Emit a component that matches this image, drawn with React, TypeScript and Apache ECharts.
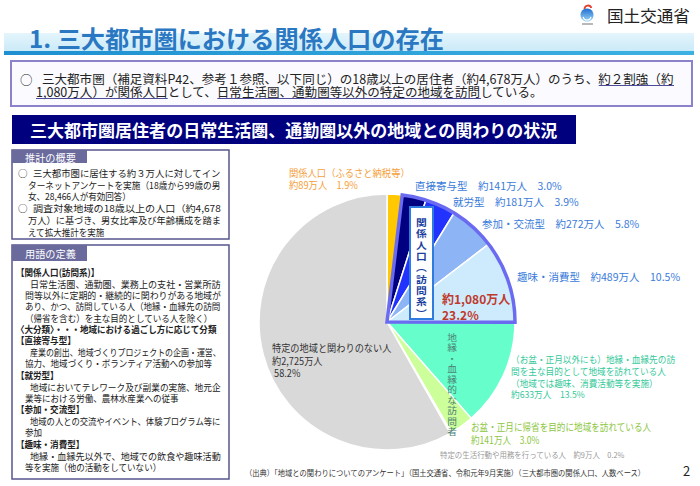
import React, { useEffect, useRef } from 'react';
import * as echarts from 'echarts';

const FONT = '"Noto Sans CJK JP", "Noto Sans CJK SC", sans-serif';

const titleText = '1. 三大都市圏における関係人口の存在';
const ministryName = '国土交通省';
const infoLines = [
  '三大都市圏（補足資料P42、参考１参照、以下同じ）の18歳以上の居住者（約4,678万人）のうち、約２割強（約',
  '1,080万人）が関係人口として、日常生活圏、通勤圏等以外の特定の地域を訪問している。',
];
const infoUnderlines: [number, string, string][] = [
  [0, '三大都市圏（補足資料P42、参考１参照、以下同じ）の18歳以上の居住者（約4,678万人）のうち、', '約２割強（約'],
  [1, '', '1,080万人）が関係人口'],
  [1, '1,080万人）が関係人口として、', '日常生活圏、通勤圏等以外の特定の地域を訪問'],
];
const sectionTitle = '三大都市圏居住者の日常生活圏、通勤圏以外の地域との関わりの状況';
const box1Title = '推計の概要';
const box1Lines = [
  '○三大都市圏に居住する約３万人に対してイン',
  'ターネットアンケートを実施（18歳から99歳の男',
  '女、28,466人が有効回答）',
  '○調査対象地域の18歳以上の人口（約4,678',
  '万人）に基づき、男女比率及び年齢構成を踏ま',
  'えて拡大推計を実施',
];
const box2Title = '用語の定義';
const box2Lines = [
  '【関係人口(訪問系)】',
  '　日常生活圏、通勤圏、業務上の支社・営業所訪',
  '問等以外に定期的・継続的に関わりがある地域が',
  'あり、かつ、訪問している人（地縁・血縁先の訪問',
  '（帰省を含む）を主な目的としている人を除く）',
  '〈大分類〉・・・地域における過ごし方に応じて分類',
  '【直接寄与型】',
  '　産業の創出、地域づくりプロジェクトの企画・運営、',
  '協力、地域づくり・ボランティア活動への参加等',
  '【就労型】',
  '　地域においてテレワーク及び副業の実施、地元企',
  '業等における労働、農林水産業への従事',
  '【参加・交流型】',
  '　地域の人との交流やイベント、体験プログラム等に',
  '参加',
  '【趣味・消費型】',
  '　地縁・血縁先以外で、地域での飲食や趣味活動',
  '等を実施（他の活動をしていない）',
];

const sliceNames = [
  '関係人口（ふるさと納税等）',
  '直接寄与型',
  '就労型',
  '参加・交流型',
  '趣味・消費型',
  '地縁・血縁先の訪問',
  '帰省',
  '特定の生活行動や用務',
  '特定の地域と関わりのない人',
];
const sliceValues = [89, 141, 181, 272, 489, 633, 141, 9, 2725];
const slicePercents = [1.9, 3.0, 3.9, 5.8, 10.5, 13.5, 3.0, 0.2, 58.2];
const sliceColors = ['#FFC800', '#000080', '#2233FF', '#8DB4F4', '#CDEBFD', '#66FFCC', '#CCFF99', '#FFFFFF', '#D9D9D9'];
const sliceLabelHeads = [
  ['関係人口（ふるさと納税等）'],
  ['直接寄与型'],
  ['就労型'],
  ['参加・交流型'],
  ['趣味・消費型'],
  ['（お盆・正月以外にも）地縁・血縁先の訪', '問を主な目的として地域を訪れている人', '（地域では趣味、消費活動等を実施）'],
  ['お盆・正月に帰省を目的に地域を訪れている人'],
  ['特定の生活行動や用務を行っている人'],
  ['特定の地域と関わりのない人'],
];
const groupIndices = [1, 2, 3, 4];
const groupTotalValue = 1080;
const groupTotalPercent = 23.2;
const groupLabel = '関係人口︵訪問系︶';
const kinLabel = '地縁・血縁的な訪問者';
const sourceText = '（出典）「地域との関わりについてのアンケート」（国土交通省、令和元年9月実施）（三大都市圏の関係人口、人数ベース）';
const pageNo = '2';

let ctx: CanvasRenderingContext2D | null = null;
function measure(text: string, fs: number, fw: string = 'normal') {
  if (!ctx) ctx = document.createElement('canvas').getContext('2d');
  ctx!.font = `${fw} ${fs}px ${FONT}`;
  return ctx!.measureText(text).width;
}

type TOpt = { fs: number; fw?: string; color?: string; sx?: number; right?: number; align?: string; lh?: number; z?: number };
function mk(x: number, y: number, text: string, o: TOpt) {
  const fw = o.fw || 'normal';
  let sx = o.sx ?? 1;
  if (o.right != null) sx = (o.right - x) / measure(text, o.fs, fw);
  return {
    type: 'text',
    x,
    y,
    scaleX: sx,
    z: o.z ?? 100,
    silent: true,
    style: {
      text,
      fill: o.color || '#222',
      fontSize: o.fs,
      fontWeight: fw,
      fontFamily: FONT,
      align: o.align || 'left',
      textAlign: o.align || 'left',
      verticalAlign: 'middle',
      textVerticalAlign: 'middle',
      lineHeight: o.lh,
    },
  };
}

function fmt(v: number) {
  return v.toLocaleString('en-US');
}

export default function App() {
  const ref = useRef<HTMLDivElement>(null);
  useEffect(() => {
    if (!ref.current) return;
    const chart = echarts.init(ref.current, undefined, { renderer: 'svg' });
    const els: any[] = [];

    // title band
    els.push({
      type: 'rect', z: 1, silent: true,
      shape: { x: 4, y: 33, width: 690, height: 18 },
      style: { fill: new echarts.graphic.LinearGradient(0, 0, 0, 1, [{ offset: 0, color: '#E4F5FC' }, { offset: 1, color: '#CBEAF8' }]) },
    });
    els.push({
      type: 'rect', z: 1, silent: true,
      shape: { x: 4, y: 51, width: 690, height: 4 },
      style: { fill: new echarts.graphic.LinearGradient(0, 0, 1, 0, [{ offset: 0, color: '#1E8FD0' }, { offset: 1, color: '#3DB2E2' }]) },
    });
    els.push(mk(29, 38, titleText, { fs: 24, fw: 'bold', color: '#2A78C2', right: 444 }));

    // logo
    els.push({ type: 'circle', z: 100, silent: true, shape: { cx: 587, cy: 15, r: 6.5 },
      style: { fill: new echarts.graphic.LinearGradient(0, 0, 0, 1, [{ offset: 0, color: '#1F6FD0' }, { offset: 1, color: '#9ED6F6' }]) } });
    els.push({ type: 'arc', z: 101, silent: true, shape: { cx: 587, cy: 16, r: 4, startAngle: 0.2, endAngle: Math.PI - 0.2 },
      style: { stroke: '#FFFFFF', lineWidth: 1.2, fill: 'none' } });
    els.push({ type: 'arc', z: 101, silent: true, shape: { cx: 588, cy: 9, r: 3.5, startAngle: Math.PI * 1.0, endAngle: Math.PI * 1.9 },
      style: { stroke: '#E2412F', lineWidth: 1.8, fill: 'none' } });
    els.push({ type: 'line', z: 101, silent: true, shape: { x1: 582, y1: 24, x2: 593, y2: 24 }, style: { stroke: '#8A8A8A', lineWidth: 1.2 } });
    els.push(mk(607, 15, ministryName, { fs: 16, color: '#222', right: 690 }));

    // info box
    els.push({ type: 'rect', z: 2, silent: true, shape: { x: 11, y: 61, width: 681, height: 45 },
      style: { fill: '#FBFBFF', stroke: '#8B82CC', lineWidth: 2 } });
    const infoFs = 12.5;
    const infoX = [42, 36];
    const infoY = [79, 92];
    const infoSx = (674 - infoX[0]) / measure(infoLines[0], infoFs);
    els.push(mk(20, infoY[0], '○', { fs: infoFs }));
    infoLines.forEach((t, i) => els.push(mk(infoX[i], infoY[i], t, { fs: infoFs, sx: infoSx })));
    infoUnderlines.forEach(([li, pre, seg]) => {
      const x1 = infoX[li] + measure(pre, infoFs) * infoSx;
      const x2 = x1 + measure(seg, infoFs) * infoSx;
      const y = infoY[li] + 6.5;
      els.push({ type: 'line', z: 100, silent: true, shape: { x1, y1: y, x2, y2: y }, style: { stroke: '#4B4B9B', lineWidth: 1 } });
    });

    // section bar
    els.push({ type: 'rect', z: 2, silent: true, shape: { x: 12, y: 115, width: 564, height: 29 }, style: { fill: '#00007F' } });
    els.push(mk(30, 130, sectionTitle, { fs: 17, fw: 'bold', color: '#FFFFFF', right: 558 }));

    // boxes
    const drawBox = (top: number, h: number, tabH: number, title: string, lines: string[], y0: number, step: number, contX: number) => {
      els.push({ type: 'rect', z: 2, silent: true, shape: { x: 12, y: top, width: 217, height: h },
        style: { fill: '#FFFFFF', stroke: '#55558E', lineWidth: 1.5 } });
      els.push({ type: 'rect', z: 3, silent: true, shape: { x: 12, y: top, width: 75, height: tabH }, style: { fill: '#6A6A9C' } });
      els.push(mk(25, top + tabH / 2 + 0.5, title, { fs: 10.5, color: '#FFFFFF', right: 76 }));
      const isCont = (s?: string) => !!s && !/^[○【〈　]/.test(s);
      lines.forEach((ln, i) => {
        const y = y0 + i * step;
        const full = isCont(lines[i + 1]);
        let body = ln;
        let x = contX;
        let fw = 'normal';
        if (ln.startsWith('○')) {
          els.push(mk(18, y, '○', { fs: 9.5 }));
          body = ln.slice(1);
          x = 33;
        } else if (ln.startsWith('　')) {
          body = ln.slice(1);
          x = 30;
        } else if (/^[【〈]/.test(ln)) {
          x = 16;
          fw = 'bold';
        }
        els.push(mk(x, y, body, full ? { fs: 9.5, fw, right: 221 } : { fs: 9.5, fw, sx: 0.9 }));
      });
    };
    drawBox(150, 89, 13, box1Title, box1Lines, 173, 11.8, 28);
    drawBox(245, 234, 16, box2Title, box2Lines, 272, 11.47, 25);

    // pie overlays
    const cx = 387, cy = 322, R = 128;
    els.push({ type: 'rect', z: 110, silent: true, shape: { x: 410, y: 207, width: 23, height: 112 },
      style: { fill: '#FFFFFF', stroke: '#2F7BE0', lineWidth: 2 } });
    groupLabel.split('').forEach((ch, k) => {
      els.push(mk(421.5, 222 + k * 11.3, ch, { fs: 9.4, fw: 'bold', color: '#1B3F9E', align: 'center', sx: 1.15, z: 111 }));
    });
    els.push(mk(442, 298, `約${fmt(groupTotalValue)}万人`, { fs: 12, fw: 'bold', color: '#C0392B' }));
    els.push(mk(442, 314, `${groupTotalPercent.toFixed(1)}%`, { fs: 12, fw: 'bold', color: '#C0392B' }));
    kinLabel.split('').forEach((ch, k) => {
      els.push(mk(452, 337 + k * 10.5, ch, { fs: 8.7, color: '#4C7F73', align: 'center', sx: 1.12 }));
    });

    const vp = (i: number) => `約${fmt(sliceValues[i])}万人　${slicePercents[i].toFixed(1)}%`;
    const orange = '#F5A03C', blue = '#3A7BDB', mint = '#35C99A', green = '#8DC63F';
    // 0: furusato
    els.push(mk(289, 173, sliceLabelHeads[0][0], { fs: 10, color: orange, sx: 0.93 }));
    els.push(mk(289, 185, vp(0), { fs: 10, color: orange, sx: 0.93 }));
    // 1-4 blue
    const bluePos = [[415, 185], [453, 201], [482, 223], [517, 276]];
    groupIndices.forEach((si, k) => {
      els.push(mk(bluePos[k][0], bluePos[k][1], `${sliceLabelHeads[si][0]}　${vp(si)}`, { fs: 10.5, color: blue }));
    });
    // 5 mint
    [...sliceLabelHeads[5], vp(5)].forEach((t, k) => els.push(mk(511, 359 + k * 11.7, t, { fs: 9.6, color: mint, sx: 0.9 })));
    // 6 green
    [...sliceLabelHeads[6], vp(6)].forEach((t, k) => els.push(mk(471, 427 + k * 13, t, { fs: 10, color: green, sx: 0.86 })));
    // 7 tiny
    els.push(mk(440, 454, `${sliceLabelHeads[7][0]}　${vp(7)}`, { fs: 8, color: '#9A9A9A', right: 625 }));
    // 8 gray
    [sliceLabelHeads[8][0], `約${fmt(sliceValues[8])}万人`, ` ${slicePercents[8].toFixed(1)}%`].forEach((t, k) =>
      els.push(mk(272, 348 + k * 12.5, t, { fs: 10, color: '#333333', sx: 0.92 })));

    // footer
    els.push(mk(245, 472, sourceText, { fs: 8, color: '#333333', right: 647 }));
    els.push(mk(683, 470, pageNo, { fs: 13, color: '#222222' }));

    const total = sliceValues.reduce((a, b) => a + b, 0);
    const before = sliceValues.slice(0, groupIndices[0]).reduce((a, b) => a + b, 0);
    const groupValue = groupIndices.reduce((s, i) => s + sliceValues[i], 0);
    const transparent = 'rgba(0,0,0,0)';

    chart.setOption({
      animation: false,
      backgroundColor: '#FFFFFF',
      graphic: { elements: els },
      series: [
        {
          type: 'pie',
          center: [cx, cy],
          radius: [0, R],
          startAngle: 90,
          clockwise: true,
          silent: true,
          label: { show: false },
          labelLine: { show: false },
          emphasis: { disabled: true },
          itemStyle: { borderColor: '#FFFFFF', borderWidth: 1.5 },
          data: sliceNames.map((n, i) => ({ name: n, value: sliceValues[i], itemStyle: { color: sliceColors[i] } })),
          z: 2,
        },
        {
          type: 'pie',
          center: [cx, cy],
          radius: [0, R],
          startAngle: 90,
          clockwise: true,
          silent: true,
          label: { show: false },
          labelLine: { show: false },
          emphasis: { disabled: true },
          data: [
            { name: 'before', value: before, itemStyle: { color: transparent, borderWidth: 0 } },
            { name: '関係人口（訪問系）', value: groupValue, itemStyle: { color: transparent, borderColor: '#6B6BF2', borderWidth: 3.5, borderJoin: 'miter' } },
            { name: 'after', value: total - before - groupValue, itemStyle: { color: transparent, borderWidth: 0 } },
          ],
          z: 3,
        },
      ],
    });
    return () => chart.dispose();
  }, []);
  return <div ref={ref} style={{ position: 'fixed', left: 0, top: 0, width: 700, height: 486, background: '#fff' }} />;
}
